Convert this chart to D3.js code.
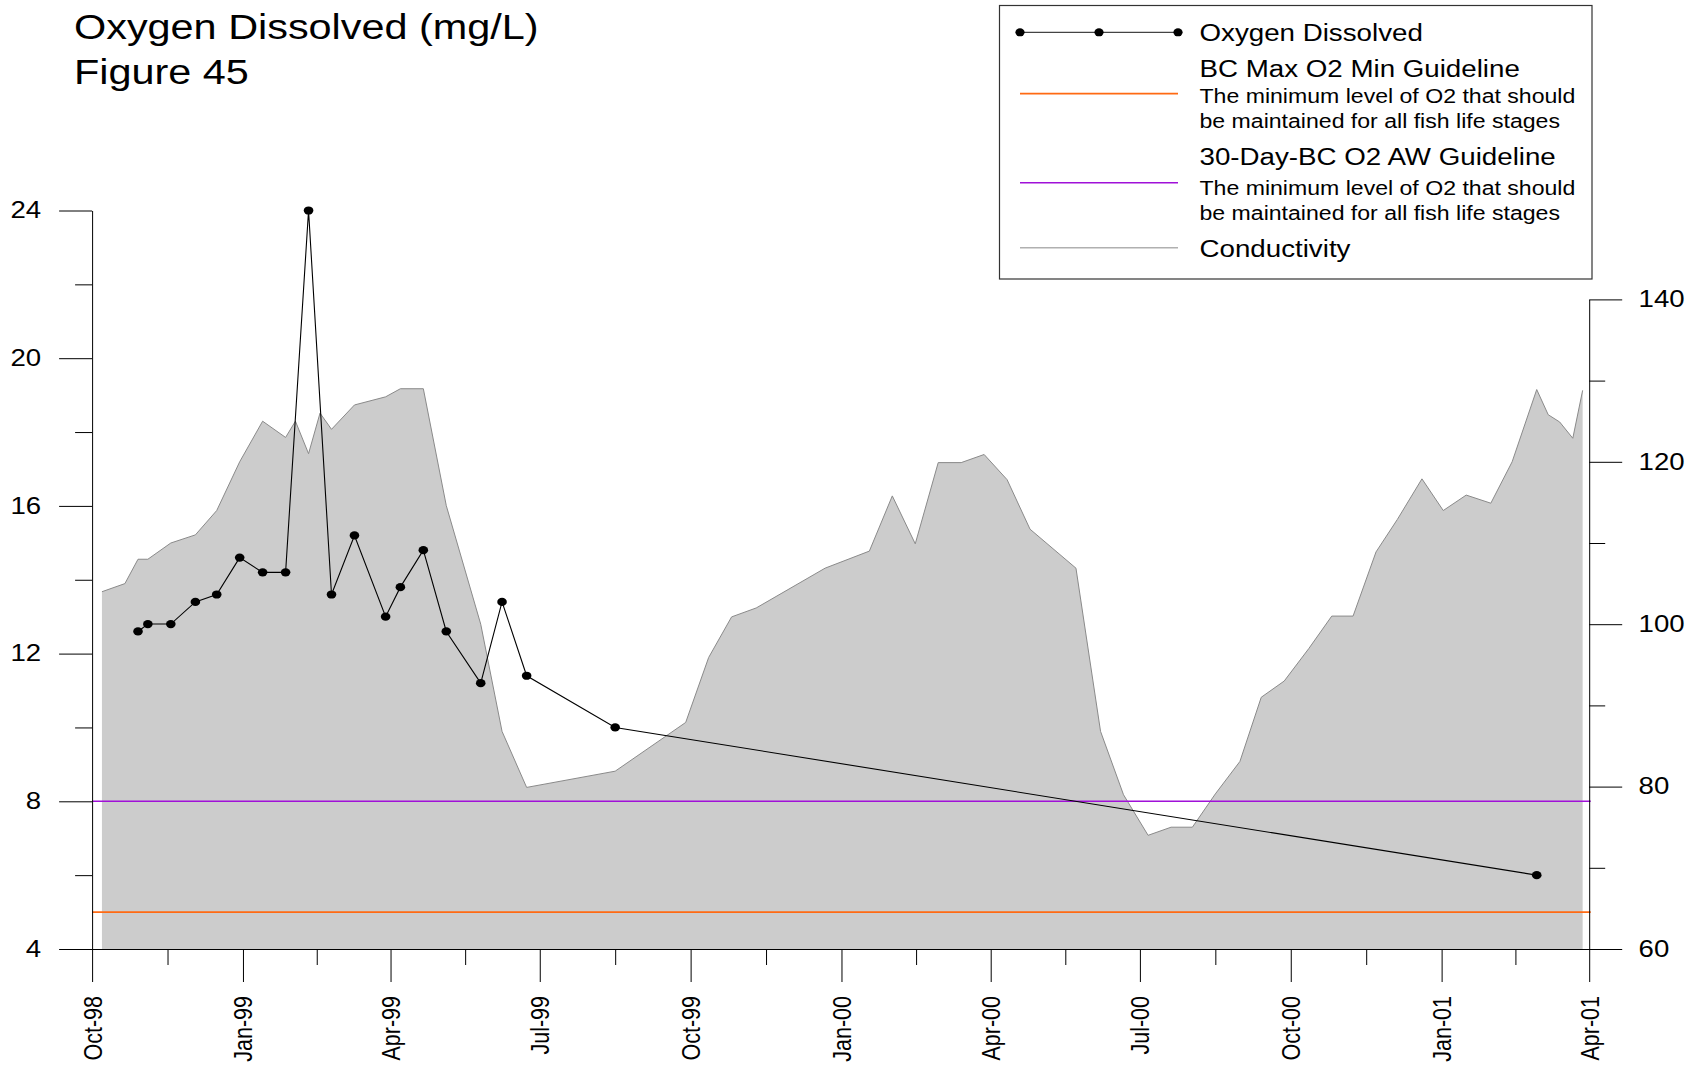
<!DOCTYPE html>
<html><head><meta charset="utf-8">
<script src="https://cdn.jsdelivr.net/npm/d3@7"></script>
<style>
html,body{margin:0;padding:0;background:#fff;}
svg{display:block;font-family:"Liberation Sans",Arial,Helvetica,sans-serif;}
</style></head><body>
<svg id="chart" width="1701" height="1070"></svg>
<script>
// ---------------- data ----------------
const titleLines = ["Oxygen Dissolved (mg/L)", "Figure 45"];

const oxygenDates = ["1998-10-29","1998-11-04","1998-11-18","1998-12-03","1998-12-16","1998-12-30",
  "1999-01-13","1999-01-27","1999-02-10","1999-02-24","1999-03-10","1999-03-29","1999-04-07",
  "1999-04-21","1999-05-05","1999-05-26","1999-06-08","1999-06-23","1999-08-16","2001-02-28"];
const oxygenValues = [12.6,12.8,12.8,13.4,13.6,14.6,14.2,14.2,24.0,13.6,15.2,13.0,13.8,14.8,12.6,11.2,13.4,11.4,10.0,6.0];

const conductivityDates = ["1998-10-07","1998-10-21","1998-10-29","1998-11-04","1998-11-18","1998-12-03",
  "1998-12-16","1998-12-30","1999-01-13","1999-01-27","1999-02-02","1999-02-10","1999-02-17","1999-02-24",
  "1999-03-10","1999-03-29","1999-04-07","1999-04-21","1999-05-05","1999-05-26","1999-06-08","1999-06-23",
  "1999-08-16","1999-09-28","1999-10-12","1999-10-26","1999-11-10","1999-12-22","2000-01-18","2000-02-01",
  "2000-02-15","2000-02-29","2000-03-14","2000-03-28","2000-04-11","2000-04-25","2000-05-23","2000-06-07",
  "2000-06-21","2000-07-06","2000-07-20","2000-08-02","2000-08-16","2000-08-31","2000-09-13","2000-09-27",
  "2000-10-12","2000-10-26","2000-11-08","2000-11-22","2000-12-05","2000-12-20","2001-01-02","2001-01-16",
  "2001-01-31","2001-02-13","2001-02-28","2001-03-07","2001-03-14","2001-03-22","2001-03-28"];
const conductivityValues = [104,105,108,108,110,111,114,120,125,123,125,121,126,124,127,128,129,129,114.6,100,86.8,79.9,
  81.9,87.9,95.9,100.9,102,106.9,109,115.8,109.9,119.9,119.9,120.9,117.8,111.7,106.9,86.8,79,74,75,75,79.1,83.1,91,93,
  97,101,101,108.9,112.9,117.9,114,115.9,114.9,120,128.9,125.8,124.9,122.9,128.8];

const bcMaxO2Min = 5;
const thirtyDayO2 = 8;

const xTickDates = ["1998-10-01","1999-01-01","1999-04-01","1999-07-01","1999-10-01","2000-01-01",
  "2000-04-01","2000-07-01","2000-10-01","2001-01-01","2001-04-01"];
const leftTicks = [4,8,12,16,20,24];
const leftMinorTicks = [6,10,14,18,22];
const rightTicks = [60,80,100,120,140];
const rightMinorTicks = [70,90,110,130];

const legendMain = ["Oxygen Dissolved","BC Max O2 Min Guideline","30-Day-BC O2 AW Guideline","Conductivity"];
const legendSub = ["The minimum level of O2 that should","be maintained for all fish life stages"];

// ---------------- setup ----------------
const parse = d3.timeParse("%Y-%m-%d");
const fmt = d3.timeFormat("%b-%y");
const SX = 1.2; // horizontal text stretch seen in the reference
const svg = d3.select("#chart");

const x = d3.scaleTime().domain([parse("1998-10-01"), parse("2001-04-01")]).range([92.1, 1589.2]);
const yL = d3.scaleLinear().domain([4,24]).range([949, 210.5]);
const yR = d3.scaleLinear().domain([60,140]).range([949, 299.4]);

const oxy = oxygenDates.map((d,i)=>({date:parse(d), v:oxygenValues[i]}));
const cond = conductivityDates.map((d,i)=>({date:parse(d), v:conductivityValues[i]}));

// conductivity area
svg.append("path").datum(cond)
  .attr("fill","#cccccc")
  .attr("d", d3.area().x(d=>x(d.date)).y0(yR(60)).y1(d=>yR(d.v)));
svg.append("path").datum(cond)
  .attr("fill","none").attr("stroke","#8a8a8a").attr("stroke-width",1)
  .attr("d", d3.line().x(d=>x(d.date)).y(d=>yR(d.v)));

// guidelines
const [x0,x1] = x.range();
svg.append("line").attr("x1",x0).attr("x2",x1+1.5).attr("y1",yL(bcMaxO2Min)).attr("y2",yL(bcMaxO2Min))
  .attr("stroke","#ff6a13").attr("stroke-width",1.8);
svg.append("line").attr("x1",x0).attr("x2",x1+1.5).attr("y1",yL(thirtyDayO2)).attr("y2",yL(thirtyDayO2))
  .attr("stroke","#a010d8").attr("stroke-width",1.6);

// oxygen line + dots
svg.append("path").datum(oxy)
  .attr("fill","none").attr("stroke","#000").attr("stroke-width",1.1)
  .attr("d", d3.line().x(d=>x(d.date)).y(d=>yL(d.v)));
svg.append("g").selectAll("ellipse").data(oxy).join("ellipse")
  .attr("cx",d=>x(d.date)).attr("cy",d=>yL(d.v)).attr("rx",4.8).attr("ry",4.1).attr("fill","#000");

// ---------------- axes ----------------
function stretchTicks(g){
  g.selectAll(".tick text").each(function(){
    const t = d3.select(this); const tx = +t.attr("x");
    t.attr("x",0).attr("transform",`translate(${tx},0) scale(${SX},1)`);
  });
}
function styleAxis(g){
  g.selectAll("path.domain").attr("stroke","#000");
  g.selectAll(".tick line").attr("stroke","#000");
  g.attr("font-family",null);
}

// left
const gL = svg.append("g").attr("transform",`translate(${x0},0)`)
  .call(d3.axisLeft(yL).tickValues(leftTicks).tickSize(33).tickSizeOuter(0).tickPadding(18).tickFormat(d3.format("d")));
gL.attr("font-size",23).attr("font-family",null);
styleAxis(gL); stretchTicks(gL);
svg.append("g").attr("transform",`translate(${x0},0)`)
  .call(d3.axisLeft(yL).tickValues(leftMinorTicks).tickSize(17).tickFormat("")).call(g=>g.select(".domain").remove())
  .call(styleAxis);

// right
const gR = svg.append("g").attr("transform",`translate(${x1},0)`)
  .call(d3.axisRight(yR).tickValues(rightTicks).tickSize(33).tickSizeOuter(0).tickPadding(16.4).tickFormat(d3.format("d")));
gR.attr("font-size",23).attr("font-family",null);
styleAxis(gR); stretchTicks(gR);
svg.append("g").attr("transform",`translate(${x1},0)`)
  .call(d3.axisRight(yR).tickValues(rightMinorTicks).tickSize(16).tickFormat("")).call(g=>g.select(".domain").remove())
  .call(styleAxis);

// bottom
const xt = xTickDates.map(parse);
const xMinor = xt.slice(0,-1).map((d,i)=>new Date((d.getTime()+xt[i+1].getTime())/2));
const gB = svg.append("g").attr("transform",`translate(0,${yL(4)})`)
  .call(d3.axisBottom(x).tickValues(xt).tickSize(33).tickSizeOuter(0).tickFormat(fmt));
gB.attr("font-size",21.5).attr("font-family",null);
styleAxis(gB);
gB.selectAll(".tick text")
  .attr("x",0).attr("y",0).attr("dy","0.35em").attr("text-anchor","end")
  .attr("transform",`translate(0,47) scale(${SX},1) rotate(-90)`);
svg.append("g").attr("transform",`translate(0,${yL(4)})`)
  .call(d3.axisBottom(x).tickValues(xMinor).tickSize(16).tickFormat("")).call(g=>g.select(".domain").remove())
  .call(styleAxis);

// ---------------- title ----------------
const titleBase = [38.5, 84];
svg.append("g").selectAll("text").data(titleLines).join("text")
  .attr("transform",(d,i)=>`translate(74,${titleBase[i]}) scale(${SX},1)`)
  .attr("font-size",34.5).attr("fill","#000").text(d=>d);

// ---------------- legend ----------------
const lg = svg.append("g");
lg.append("rect").attr("x",999.5).attr("y",5.5).attr("width",592.5).attr("height",273.5)
  .attr("fill","#fff").attr("stroke","#333").attr("stroke-width",1.2);
const lx0 = 1020, lx1 = 1178, ltx = 1199.5;
function ltext(str, y, size){
  lg.append("text").attr("transform",`translate(${ltx},${y}) scale(1.19,1)`)
    .attr("font-size",size).attr("fill","#000").text(str);
}
// oxygen
lg.append("line").attr("x1",lx0).attr("x2",lx1).attr("y1",32.3).attr("y2",32.3).attr("stroke","#444").attr("stroke-width",1.2);
lg.selectAll("ellipse").data([lx0,(lx0+lx1)/2,lx1]).join("ellipse")
  .attr("cx",d=>d).attr("cy",32.3).attr("rx",4.6).attr("ry",4).attr("fill","#000");
ltext(legendMain[0], 41, 23.3);
// BC max
lg.append("line").attr("x1",lx0).attr("x2",lx1).attr("y1",93.7).attr("y2",93.7).attr("stroke","#ff6a13").attr("stroke-width",1.8);
ltext(legendMain[1], 77, 23.3);
ltext(legendSub[0], 103, 19.4);
ltext(legendSub[1], 127.5, 19.4);
// 30-day
lg.append("line").attr("x1",lx0).attr("x2",lx1).attr("y1",182.7).attr("y2",182.7).attr("stroke","#a010d8").attr("stroke-width",1.6);
ltext(legendMain[2], 165, 23.3);
ltext(legendSub[0], 195, 19.4);
ltext(legendSub[1], 220, 19.4);
// conductivity
lg.append("line").attr("x1",lx0).attr("x2",lx1).attr("y1",247.7).attr("y2",247.7).attr("stroke","#b0b0b0").attr("stroke-width",1.5);
ltext(legendMain[3], 256.5, 23.3);
</script>
</body></html>
